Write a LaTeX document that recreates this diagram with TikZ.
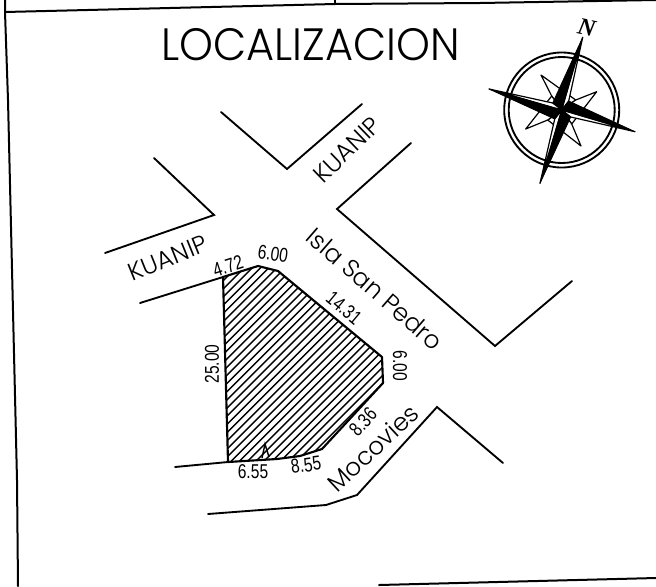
\documentclass[tikz,border=0pt]{standalone}
\usepackage{fontspec}
\setmainfont{Liberation Sans}
\newfontfamily\geo{Poppins Light}
\newfontfamily\nfont{Liberation Serif}
\tikzset{
  frameline/.style={line width=1.5pt,line cap=round,line join=round},
  street/.style={line width=1.4pt,line cap=round,line join=miter},
  lotline/.style={line width=1.6pt,line join=round},
  hatchline/.style={line width=1.05pt},
  dim/.style={inner sep=0pt,font=\fontsize{15}{15}\selectfont,xscale=.78},
  streetname/.style={inner sep=0pt,font=\geo\fontsize{18.5}{20}\selectfont},
  ringline/.style={line width=1.4pt},
  blackhalf/.style={fill=black,draw=black,line width=.6pt,line join=round},
  whitehalf/.style={fill=white,draw=black,line width=.9pt,line join=round},
}
\begin{document}
\begin{tikzpicture}[x=.75pt,y=-.75pt]
\useasboundingbox (0,0) rectangle (656,586);
\fill[white] (0,0) rectangle (656,586);
% frame
\draw[frameline] (5,0) -- (5,12) -- (8,100) -- (17,480) -- (18,586);
\draw[frameline] (5,12) -- (335,4) -- (480,3) -- (656,0);
\draw[frameline] (335,0) -- (335,4);
\draw[frameline] (379,585) -- (656,578);
% title
\node[inner sep=0pt,font=\geo\fontsize{34}{36}\selectfont,xscale=.95] (title) at (310.5,45) {LOCALIZACION};
% streets
\draw[street] (221,112) -- (287,169) -- (362,104);
\draw[street] (154,158) -- (214,215) -- (105,253);
\draw[street] (411,143) -- (337,209) -- (495,346) -- (572,281);
\draw[street] (503,463) -- (437,407) -- (357,495) -- (326,505) -- (208,514);
\draw[street] (140,303) -- (223,277);
\draw[street] (175,467) -- (228,462);
% lot
\begin{scope}
\clip (223,277) -- (258,266) -- (278,271) -- (382,357) -- (383,383) -- (322,449) -- (300,456) -- (277,459) -- (228,462) -- cycle;
\foreach \k in {0,8.2,...,460} {
  \draw[hatchline] (\k-40,470) -- ++(300,-300);
}
\end{scope}
\draw[lotline] (223,277) -- (258,266) -- (278,271) -- (382,357) -- (383,383) -- (322,449) -- (300,456) -- (277,459) -- (228,462) -- cycle;
\draw[hatchline] (262,458) -- (265,444) -- (269,457);
% dimensions
\node[dim] (d1) at (253,472) {6.55};
\node[rotate=8,dim] (d2) at (306,465) {8.55};
\node[rotate=48,dim] (d3) at (363,422) {8.36};
\node[rotate=-90,dim] (d4) at (400,366) {6.00};
\node[rotate=-40,dim] (d5) at (344,308) {14.31};
\node[rotate=90,dim] (d6) at (212,364) {25.00};
\node[rotate=-8,dim] (d7) at (273,254) {6.00};
\node[rotate=18,dim] (d8) at (228,266) {4.72};
% street names
\node[rotate=22,streetname] (s1) at (168,258) {KUANIP};
\node[rotate=44,streetname] (s2) at (347,150) {KUANIP};
\node[rotate=-41,streetname] (s3) at (375,289) {Isla San Pedro};
\node[rotate=43,streetname] (s4) at (373,448) {Mocovies};
% compass
\begin{scope}[shift={(561.7,110)}]
\draw[ringline] (0,0) circle (57.5);
\draw[ringline] (0,0) circle (53);
\foreach \tx/\ty/\sx/\sy in {-20.7/-35/-10/-14, 35/-18.3/14/-10, 19.3/36/10/14, -36/19/-14/10} {
  \draw[whitehalf] (0,0) -- (\sx,\sy) -- (\tx,\ty) -- (\sy*-1,\sx) -- cycle;
}
\foreach \tx/\ty/\sx/\sy in {21/-72.7/-9/-7,73.3/21.7/7/-9,-21.7/73.3/9/7,-72.7/-21/-7/9} {
  \draw[whitehalf] (0,0) -- (\tx,\ty) -- (-\sy,\sx) -- cycle;
  \draw[blackhalf] (0,0) -- (\tx,\ty) -- (\sx,\sy) -- cycle;
}
\end{scope}
\node[inner sep=0pt,rotate=-12,font=\nfont\bfseries\itshape\fontsize{18}{18}\selectfont] (north) at (586.7,27.3) {N};
\end{tikzpicture}
\end{document}
